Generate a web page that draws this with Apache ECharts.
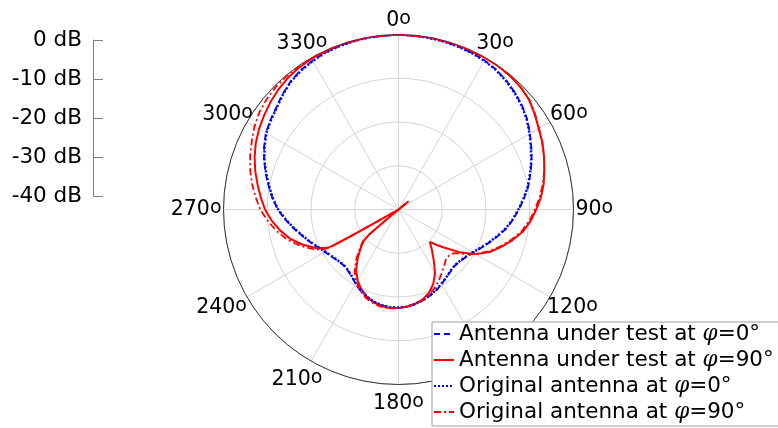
<!DOCTYPE html>
<html><head><meta charset="utf-8">
<script src="https://cdn.jsdelivr.net/npm/echarts@6/dist/echarts.min.js"></script>
<style>html,body{margin:0;padding:0;background:#fff}#c{width:778px;height:428px}</style>
</head><body><div id="c"></div><script>
// ---- data ----
const angleTicks = [0, 30, 60, 90, 120, 150, 180, 210, 240, 270, 300, 330];
const dbTicks = [0, -10, -20, -30, -40];
const seriesNames = [
  'Antenna under test at φ=0°',
  'Antenna under test at φ=90°',
  'Original antenna at φ=0°',
  'Original antenna at φ=90°'
];
// [angle (deg), gain (dB)]
const autPhi0 = [[0,0],[5,-0.05],[10,-0.1],[15,-0.2],[20,-0.3],[25,-0.45],[30,-0.65],[35,-1.0],[40,-1.6],[45,-2.3],[50,-3.1],[55,-4.1],[60,-5.3],[65,-6.5],[70,-7.6],[75,-8.8],[80,-9.9],[85,-11.2],[90,-12.5],[95,-13.7],[100,-15.0],[105,-16.5],[110,-17.9],[115,-19.2],[120,-20.3],[125,-21.1],[130,-21.6],[135,-21.8],[140,-21.5],[145,-21.0],[150,-20.3],[155,-19.6],[160,-19.0],[165,-18.5],[170,-18.0],[175,-17.7],[180,-17.5],[185,-17.5],[190,-17.8],[195,-18.1],[200,-18.7],[205,-19.5],[210,-20.4],[215,-21.3],[220,-21.9],[225,-22.1],[230,-21.8],[235,-21.3],[240,-20.6],[245,-19.6],[250,-18.4],[255,-17.1],[260,-15.6],[265,-14.0],[270,-12.4],[275,-11.1],[280,-9.9],[285,-8.6],[290,-7.3],[295,-6.1],[300,-5.0],[305,-4.3],[310,-3.6],[315,-2.6],[320,-1.7],[325,-1.1],[330,-0.7],[335,-0.4],[340,-0.25],[345,-0.15],[350,-0.08],[355,-0.03],[360,0]];
const autPhi90 = [[0,0],[10,0],[20,0],[30,-0.05],[35,-0.1],[40,-0.2],[45,-0.5],[50,-1.0],[55,-2.0],[60,-3.0],[65,-3.7],[70,-4.6],[75,-5.5],[80,-6.3],[85,-7.3],[90,-8.5],[95,-9.7],[100,-11.1],[105,-13.0],[110,-15.0],[115,-17.0],[120,-19.6],[125,-23.0],[130,-26.5],[133,-28.2],[136,-29.7],[138,-29.0],[140,-28.2],[145,-26.0],[150,-23.3],[155,-21.2],[160,-19.7],[165,-18.7],[170,-18.1],[175,-17.7],[180,-17.5],[185,-17.4],[190,-17.6],[195,-18.1],[200,-18.8],[205,-19.9],[210,-21.3],[215,-23.1],[220,-25.5],[225,-27.9],[228,-29.3],[229.5,-31],[230,-36],[230.5,-43],[231,-40],[240.3,-40],[240.6,-34],[240.8,-28],[241.2,-22.5],[242,-21.2],[245,-19.2],[250,-16.6],[255,-14.3],[260,-12.5],[265,-10.9],[270,-9.5],[275,-8.4],[280,-7.3],[285,-6.1],[290,-5.0],[295,-4.0],[300,-3.2],[305,-2.5],[310,-1.8],[315,-1.2],[320,-0.7],[325,-0.4],[330,-0.2],[340,-0.05],[350,0],[360,0]];
const origPhi0 = [[0,0],[5,-0.08],[10,-0.15],[15,-0.25],[20,-0.35],[25,-0.5],[30,-0.75],[35,-1.1],[40,-1.7],[45,-2.4],[50,-3.2],[55,-4.2],[60,-5.4],[65,-6.6],[70,-7.7],[75,-8.9],[80,-10.0],[85,-11.3],[90,-12.6],[95,-13.8],[100,-15.1],[105,-16.6],[110,-18.0],[115,-19.3],[120,-20.4],[125,-21.2],[130,-21.7],[135,-21.9],[140,-21.6],[145,-21.0],[150,-20.4],[155,-19.7],[160,-19.1],[165,-18.5],[170,-18.1],[175,-17.7],[180,-17.6],[185,-17.6],[190,-17.8],[195,-18.2],[200,-18.8],[205,-19.6],[210,-20.5],[215,-21.4],[220,-22.0],[225,-22.2],[230,-21.9],[235,-21.4],[240,-20.7],[245,-19.7],[250,-18.5],[255,-17.2],[260,-15.7],[265,-14.1],[270,-12.5],[275,-11.2],[280,-10.0],[285,-8.7],[290,-7.4],[295,-6.2],[300,-5.1],[305,-4.4],[310,-3.7],[315,-2.7],[320,-1.8],[325,-1.2],[330,-0.8],[335,-0.45],[340,-0.3],[345,-0.18],[350,-0.1],[355,-0.05],[360,0]];
const origPhi90 = [[0,0],[10,0],[20,0],[30,-0.05],[35,-0.1],[40,-0.2],[45,-0.5],[50,-1.0],[55,-1.9],[60,-2.9],[65,-3.8],[70,-4.6],[75,-5.5],[80,-6.5],[85,-7.6],[90,-8.8],[95,-10.0],[100,-11.4],[105,-13.3],[110,-15.3],[115,-17.3],[120,-19.7],[125,-22.3],[128,-23.8],[131,-24.3],[134,-24.4],[137,-24.2],[140,-23.6],[145,-22.6],[150,-21.4],[155,-20.3],[160,-19.3],[165,-18.6],[170,-18.1],[175,-17.7],[180,-17.5],[185,-17.3],[190,-17.4],[195,-17.8],[200,-18.4],[205,-19.4],[210,-20.8],[215,-22.5],[220,-24.9],[225,-27.5],[228,-29.0],[229.5,-31],[230,-36],[230.5,-42],[231,-40],[240.3,-40],[240.6,-34],[240.8,-28],[241.2,-22],[242,-20.6],[245,-18.5],[250,-15.9],[255,-13.6],[260,-11.7],[265,-10.0],[270,-8.4],[275,-7.2],[280,-6.0],[285,-4.9],[290,-3.9],[295,-3.0],[300,-2.0],[305,-1.2],[310,-0.7],[315,-0.35],[320,-0.2],[325,-0.1],[330,-0.05],[340,0],[350,0],[360,0]];

// ---- styling / layout (not data) ----
const FONT = 'DejaVu Sans';
const labelPlacement = {
  0:   {align: 'center', verticalAlign: 'bottom', offset: [0, -3]},
  30:  {align: 'center', verticalAlign: 'bottom', offset: [9, -3]},
  60:  {align: 'left',   verticalAlign: 'bottom', offset: [0, 4]},
  90:  {align: 'left',   verticalAlign: 'middle', offset: [2, 0]},
  120: {align: 'left',   verticalAlign: 'top',    offset: [-3, 0]},
  150: {align: 'left',   verticalAlign: 'top',    offset: [0, 0]},
  180: {align: 'center', verticalAlign: 'top',    offset: [0, 8]},
  210: {align: 'center', verticalAlign: 'top',    offset: [-14, 8]},
  240: {align: 'right',  verticalAlign: 'top',    offset: [0, 0]},
  270: {align: 'right',  verticalAlign: 'middle', offset: [-2, 0]},
  300: {align: 'right',  verticalAlign: 'bottom', offset: [6, 4]},
  330: {align: 'center', verticalAlign: 'bottom', offset: [-9, -3]}
};
const toPolar = arr => arr.map(p => [p[1], p[0]]);
const dbMin = Math.min(...dbTicks), dbMax = Math.max(...dbTicks);
const lineSeries = (name, data, color, width, type) => ({
  name, type: 'line', coordinateSystem: 'polar', data: toPolar(data),
  symbol: 'none', clip: false,
  lineStyle: {color, width, type}, itemStyle: {color: 'transparent'}
});

const chart = echarts.init(document.getElementById('c'), null, {renderer: 'canvas'});
chart.setOption({
  backgroundColor: '#ffffff',
  animation: false,
  textStyle: {fontFamily: FONT},
  polar: {center: [398.5, 209.5], radius: 175},
  angleAxis: {
    type: 'value', min: 0, max: 360, interval: 30, startAngle: 90, clockwise: true,
    axisLine: {show: true, lineStyle: {color: '#333333', width: 1}},
    axisTick: {show: false},
    axisLabel: {show: false},
    splitLine: {show: true, lineStyle: {color: '#d4d4d4', width: 1}}
  },
  radiusAxis: {
    type: 'value', min: dbMin, max: dbMax, interval: 10,
    axisLine: {show: false}, axisTick: {show: false}, axisLabel: {show: false},
    splitLine: {show: true, lineStyle: {color: '#d4d4d4', width: 1}}
  },
  grid: {left: 93, top: 40, width: 1, height: 156},
  xAxis: {type: 'value', show: false, min: 0, max: 1},
  yAxis: {
    type: 'value', min: dbMin, max: dbMax, interval: 10, position: 'left',
    axisLine: {show: true, lineStyle: {color: '#808080', width: 1}},
    axisTick: {show: true, inside: true, length: 10, lineStyle: {color: '#808080'}},
    splitLine: {show: false},
    axisLabel: {formatter: v => v + ' dB', fontSize: 21.5, fontFamily: FONT, color: '#000', margin: 11}
  },
  legend: {
    orient: 'vertical', left: 432, top: 322, height: 140, width: 400,
    data: seriesNames,
    backgroundColor: '#ffffff', borderColor: '#a0a0a0', borderWidth: 1,
    padding: [1, 40, 3, 1], itemGap: 4, itemWidth: 20, itemHeight: 10,
    itemStyle: {opacity: 0},
    formatter: n => n.replace('φ', '{p|φ}'),
    textStyle: {fontSize: 21.5, fontFamily: FONT, color: '#000',
      rich: {p: {fontSize: 21.5, fontFamily: 'DejaVu Serif', fontStyle: 'italic', color: '#000'}}}
  },
  series: [
    lineSeries(seriesNames[0], autPhi0, '#0000ff', 1.8, [6, 4]),
    lineSeries(seriesNames[1], autPhi90, '#ff0000', 2, 'solid'),
    lineSeries(seriesNames[2], origPhi0, '#0000ff', 2.5, [2, 2]),
    lineSeries(seriesNames[3], origPhi90, '#ff0000', 1.8, [7, 3, 2, 3]),
    {name: 'angleLabels', type: 'scatter', coordinateSystem: 'polar', silent: true,
     symbolSize: 1, itemStyle: {color: 'transparent'},
     data: angleTicks.map(a => ({value: [dbMax, a], label: labelPlacement[a]})),
     label: {show: true, position: 'inside', color: '#000', textBorderWidth: 0, opacity: 1,
       formatter: p => '{n|' + p.value[1] + '}{s|o}',
       rich: {n: {fontSize: 20.5, fontFamily: FONT, color: '#000', lineHeight: 22},
              s: {fontSize: 19, fontFamily: FONT, color: '#000', verticalAlign: 'top', lineHeight: 4}}}}
  ]
});
</script></body></html>
